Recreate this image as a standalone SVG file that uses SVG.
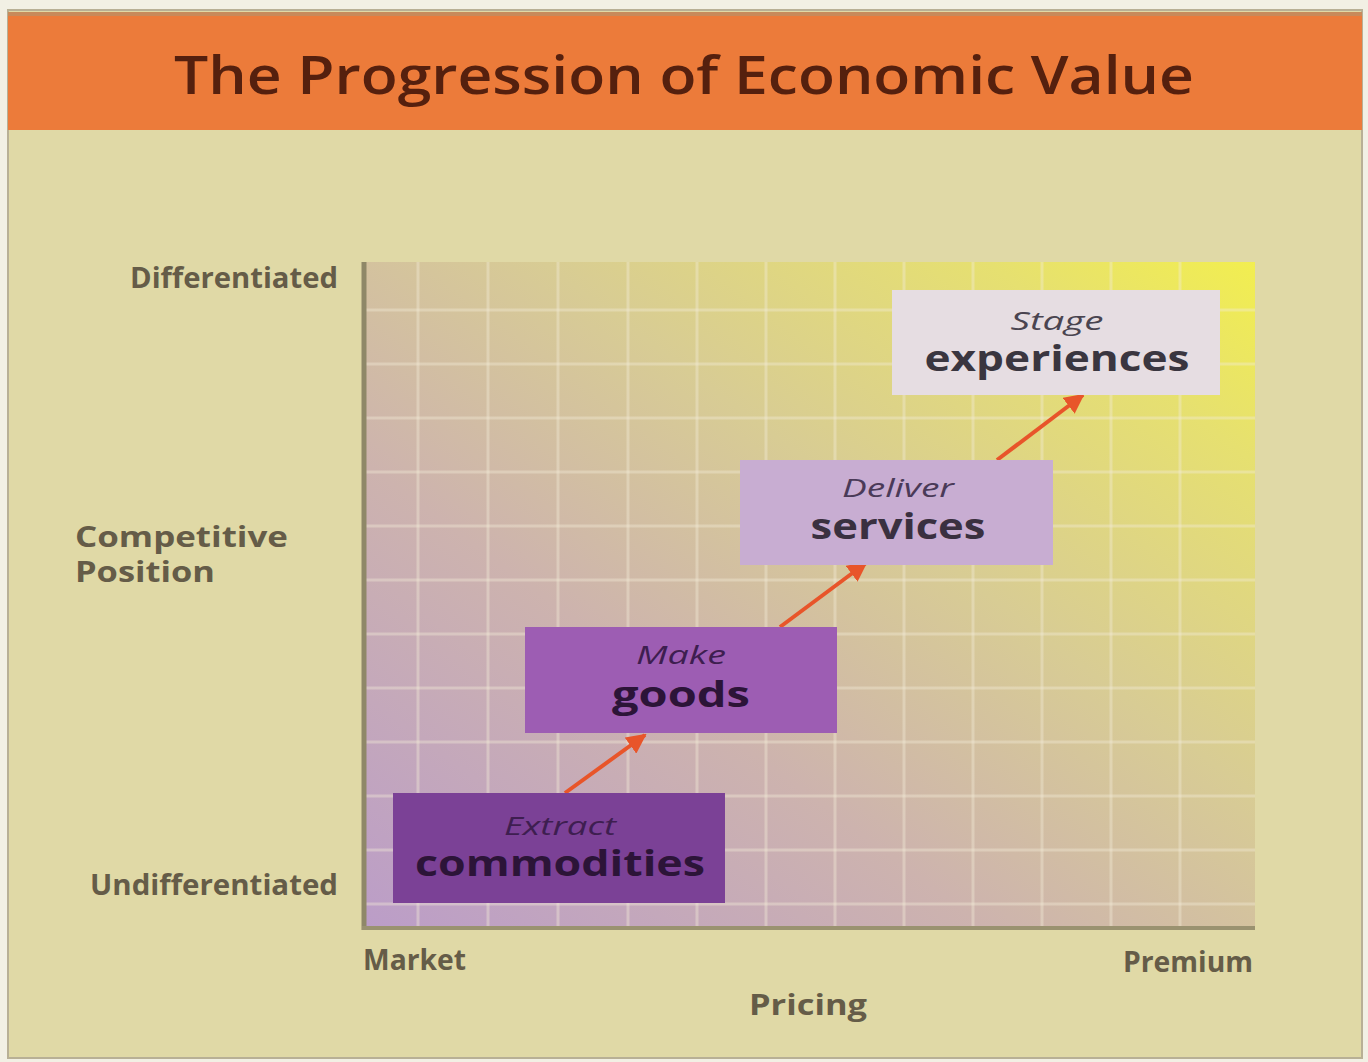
<svg xmlns="http://www.w3.org/2000/svg" width="1368" height="1062" viewBox="0 0 1368 1062">
<defs>
<linearGradient id="bg" x1="0" y1="1" x2="1" y2="0">
<stop offset="0" stop-color="#bb9dc8"/>
<stop offset="0.35" stop-color="#cdb3ae"/>
<stop offset="0.6" stop-color="#d8cc94"/>
<stop offset="0.85" stop-color="#e6e070"/>
<stop offset="1" stop-color="#f2ee50"/>
</linearGradient>
<marker id="ah" viewBox="0 0 10 10" refX="9" refY="5" markerWidth="5" markerHeight="5" orient="auto" markerUnits="strokeWidth">
<path d="M0,0 L10,5 L0,10 Z" fill="#e8552a"/>
</marker>
</defs>
<style>
.ax{font-family:"Open Sans","Liberation Sans",sans-serif;font-weight:bold;fill:#655c48;font-size:28px}
.sm{font-family:"Open Sans","Liberation Sans",sans-serif;font-style:italic;font-size:25px;text-anchor:middle}
.lg{font-family:"Open Sans","Liberation Sans",sans-serif;font-weight:bold;font-size:35px;text-anchor:middle}
.grid line{stroke:#f3ecd8;stroke-width:3;opacity:0.4}
.conn line{stroke:#e8552a;stroke-width:4;marker-end:url(#ah)}
</style>
<rect x="0" y="0" width="1368" height="1062" fill="#f2f0e4"/>
<rect x="8" y="10" width="1354" height="1048" fill="#e0d9a6" stroke="#b8b095" stroke-width="2"/>
<rect x="8" y="12" width="1354" height="118" fill="#ec7b3a"/>
<rect x="8" y="12" width="1354" height="4" fill="#c88a5a"/>
<text x="684" y="94" text-anchor="middle" font-family="'Open Sans','Liberation Sans',sans-serif" font-weight="600" font-size="52" fill="#55200e" textLength="1020" lengthAdjust="spacingAndGlyphs">The Progression of Economic Value</text>

<g id="chart">
<rect x="364" y="262" width="891" height="666" fill="url(#bg)"/>
<g class="grid">
<line x1="418" y1="262" x2="418" y2="928"/>
<line x1="488" y1="262" x2="488" y2="928"/>
<line x1="558" y1="262" x2="558" y2="928"/>
<line x1="628" y1="262" x2="628" y2="928"/>
<line x1="697" y1="262" x2="697" y2="928"/>
<line x1="766" y1="262" x2="766" y2="928"/>
<line x1="835" y1="262" x2="835" y2="928"/>
<line x1="904" y1="262" x2="904" y2="928"/>
<line x1="973" y1="262" x2="973" y2="928"/>
<line x1="1042" y1="262" x2="1042" y2="928"/>
<line x1="1111" y1="262" x2="1111" y2="928"/>
<line x1="1180" y1="262" x2="1180" y2="928"/>
<line x1="364" y1="310" x2="1255" y2="310"/>
<line x1="364" y1="364" x2="1255" y2="364"/>
<line x1="364" y1="418" x2="1255" y2="418"/>
<line x1="364" y1="472" x2="1255" y2="472"/>
<line x1="364" y1="526" x2="1255" y2="526"/>
<line x1="364" y1="580" x2="1255" y2="580"/>
<line x1="364" y1="634" x2="1255" y2="634"/>
<line x1="364" y1="688" x2="1255" y2="688"/>
<line x1="364" y1="742" x2="1255" y2="742"/>
<line x1="364" y1="796" x2="1255" y2="796"/>
<line x1="364" y1="850" x2="1255" y2="850"/>
<line x1="364" y1="904" x2="1255" y2="904"/>
</g>
<line x1="364" y1="262" x2="364" y2="930" stroke="#8f8868" stroke-width="5"/>
<line x1="362" y1="928" x2="1255" y2="928" stroke="#9a9270" stroke-width="4"/>
</g>

<text class="ax" x="338" y="288" text-anchor="end" textLength="208" lengthAdjust="spacingAndGlyphs">Differentiated</text>
<text class="ax" x="75" y="547" textLength="213" lengthAdjust="spacingAndGlyphs">Competitive</text>
<text class="ax" x="75" y="582" textLength="140" lengthAdjust="spacingAndGlyphs">Position</text>
<text class="ax" x="338" y="895" text-anchor="end" textLength="248" lengthAdjust="spacingAndGlyphs">Undifferentiated</text>
<text class="ax" x="363" y="970" textLength="103" lengthAdjust="spacingAndGlyphs">Market</text>
<text class="ax" x="1253" y="972" text-anchor="end" textLength="130" lengthAdjust="spacingAndGlyphs">Premium</text>
<text class="ax" x="808" y="1015" text-anchor="middle" textLength="118" lengthAdjust="spacingAndGlyphs">Pricing</text>

<g class="conn">
<line x1="565" y1="793" x2="645" y2="735"/>
<line x1="780" y1="627" x2="866" y2="563"/>
<line x1="997" y1="460" x2="1083" y2="395"/>
</g>

<g id="commodities">
<rect x="393" y="793" width="332" height="110" fill="#7b4196"/>
<text class="sm" x="560" y="835" fill="#3e1e50" textLength="112" lengthAdjust="spacingAndGlyphs">Extract</text>
<text class="lg" x="560" y="876" fill="#2c1438" textLength="290" lengthAdjust="spacingAndGlyphs">commodities</text>
</g>
<g id="goods">
<rect x="525" y="627" width="312" height="106" fill="#9d5db3"/>
<text class="sm" x="681" y="664" fill="#3e1e50" textLength="90" lengthAdjust="spacingAndGlyphs">Make</text>
<text class="lg" x="681" y="707" fill="#2c1438" textLength="138" lengthAdjust="spacingAndGlyphs">goods</text>
</g>
<g id="services">
<rect x="740" y="460" width="313" height="105" fill="#c8add2"/>
<text class="sm" x="898" y="497" fill="#4a3a58" textLength="112" lengthAdjust="spacingAndGlyphs">Deliver</text>
<text class="lg" x="898" y="539" fill="#3a3040" textLength="175" lengthAdjust="spacingAndGlyphs">services</text>
</g>
<g id="experiences">
<rect x="892" y="290" width="328" height="105" fill="#e6dde2"/>
<text class="sm" x="1057" y="330" fill="#4a4450" textLength="93" lengthAdjust="spacingAndGlyphs">Stage</text>
<text class="lg" x="1057" y="371" fill="#3a3640" textLength="265" lengthAdjust="spacingAndGlyphs">experiences</text>
</g>
</svg>
